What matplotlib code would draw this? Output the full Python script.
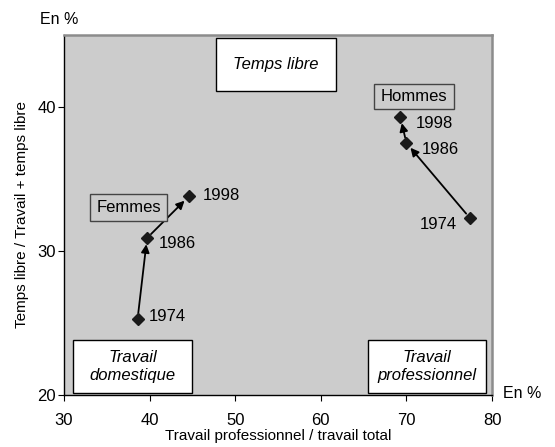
import matplotlib.pyplot as plt
import matplotlib.patches as mpatches

plt.rcParams['font.family'] = ['Liberation Sans', 'DejaVu Sans']

# Data (x: travail pro / travail total, y: temps libre / (travail + temps libre))
years = ['1974', '1986', '1998']
femmes_x = [38.6, 39.7, 44.6]
femmes_y = [25.3, 30.9, 33.8]
hommes_x = [77.4, 70.0, 69.3]
hommes_y = [32.3, 37.5, 39.3]

xticks = [30, 40, 50, 60, 70, 80]
yticks = [20, 30, 40]

fig = plt.figure(figsize=(5.55, 4.47), dpi=100)
ax = fig.add_axes([64/555, 1 - 395/447, 428/555, 360/447])
ax.set_facecolor('#cccccc')

ax.set_xlim(30, 80)
ax.set_ylim(20, 45)
ax.set_xticks(xticks)
ax.set_yticks(yticks)
ax.tick_params(axis='x', labelsize=12, length=4, pad=9, direction='out')
ax.tick_params(axis='y', labelsize=12, length=4, pad=2, direction='out')

for s in ['left', 'bottom']:
    ax.spines[s].set_color('black')
    ax.spines[s].set_linewidth(1)
for s in ['top', 'right']:
    ax.spines[s].set_color('#8c8c8c')
    ax.spines[s].set_linewidth(1.8)

# series: markers + arrows
for xs, ys in [(femmes_x, femmes_y), (hommes_x, hommes_y)]:
    ax.plot(xs, ys, linestyle='none', marker='D', markersize=6.5, color='#1a1a1a', zorder=4)
    for i in range(len(xs) - 1):
        ax.annotate('', xy=(xs[i+1], ys[i+1]), xytext=(xs[i], ys[i]),
                    arrowprops=dict(arrowstyle='-|>', color='black', lw=1.3,
                                    shrinkA=4, shrinkB=4.5, mutation_scale=12),
                    zorder=3)

# year labels (offsets in pixels)
fem_off = [(11, 2), (12, -5), (14, 1)]
hom_off = [(-13, -7), (15, -7), (15, -6)]
for xs, ys, offs, has in [(femmes_x, femmes_y, fem_off, ['left'] * 3),
                          (hommes_x, hommes_y, hom_off, ['right', 'left', 'left'])]:
    for x, y, yr, off, ha in zip(xs, ys, years, offs, has):
        ax.annotate(yr, xy=(x, y), xytext=off, textcoords='offset pixels',
                    ha=ha, va='center', fontsize=12)

# labelled boxes (axes fraction)
def box(x0, x1, y0, y1, text, italic=True, fc='white', ec='black'):
    r = mpatches.Rectangle((x0, y0), x1 - x0, y1 - y0, transform=ax.transAxes,
                           facecolor=fc, edgecolor=ec, linewidth=1, zorder=5)
    ax.add_patch(r)
    ax.text((x0 + x1) / 2, (y0 + y1) / 2, text, transform=ax.transAxes,
            ha='center', va='center', fontsize=12,
            style='italic' if italic else 'normal', zorder=6, linespacing=1.3)

box(0.354, 0.635, 0.844, 0.991, 'Temps libre')
box(0.022, 0.300, 0.006, 0.153, 'Travail\ndomestique')
box(0.710, 0.987, 0.006, 0.153, 'Travail\nprofessionnel')
box(0.061, 0.241, 0.483, 0.558, 'Femmes', italic=False, fc='#cccccc', ec='#444444')
box(0.724, 0.911, 0.794, 0.864, 'Hommes', italic=False, fc='#cccccc', ec='#444444')

ax.set_xlabel('Travail professionnel / travail total', fontsize=11, labelpad=1)
ax.set_ylabel('Temps libre / Travail + temps libre', fontsize=11, labelpad=6)

fig.text(40/555, 1 - 19/447, 'En %', fontsize=11.5, ha='left', va='center')
fig.text(503/555, 1 - 393/447, 'En %', fontsize=11.5, ha='left', va='center')

fig.savefig('out.png', dpi=100)
